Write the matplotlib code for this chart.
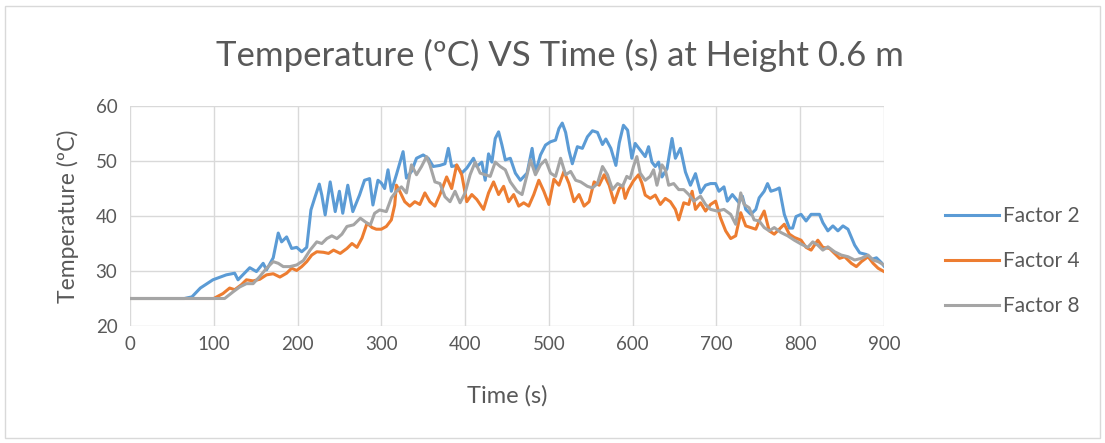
import matplotlib
matplotlib.use("Agg")
import matplotlib.pyplot as plt
from matplotlib.patches import Rectangle

plt.rcParams['font.family'] = ['Lato', 'DejaVu Sans']

########################################################################################
'DATA (read off the reference picture)'

t_f2 = [0, 65, 74, 84, 99, 115, 125, 129, 143, 151, 159, 163, 171, 177, 181, 187, 193, 199, 205, 211,
        216, 221, 226, 229, 233, 239, 245, 250, 254, 260, 266, 274, 280, 286, 290, 296, 300, 304, 308, 312,
        318, 326, 330, 336, 342, 350, 356, 362, 370, 376, 380, 384, 390, 396, 402, 410, 414, 420, 424, 428,
        432, 436, 440, 444, 448, 454, 460, 466, 474, 480, 484, 490, 496, 502, 508, 512, 516, 520, 524, 528,
        534, 540, 546, 552, 558, 564, 568, 574, 580, 584, 589, 594, 599, 603, 609, 615, 619, 623, 627, 631,
        635, 641, 647, 651, 657, 663, 669, 675, 681, 687, 693, 699, 703, 709, 713, 719, 727, 731, 735, 741,
        747, 751, 757, 761, 765, 771, 775, 781, 787, 791, 795, 801, 807, 813, 823, 827, 833, 839, 845, 851,
        857, 865, 871, 879, 885, 891, 897, 900]
T_f2 = [25, 25, 25.3, 26.9, 28.4, 29.3, 29.6, 28.4, 30.6, 29.9, 31.4, 30.2, 32.4, 36.9, 35.3, 36.2, 34.1, 34.3, 33.5, 34.3,
        41.1, 43.5, 45.8, 43.8, 40.2, 46.2, 40.8, 44.5, 40.5, 45.6, 40.8, 43.8, 46.5, 46.8, 42, 46.5, 46, 45, 48.4, 44.5,
        47.5, 51.7, 46.9, 48.1, 50.5, 51.1, 50.5, 49, 49.2, 49.5, 52.3, 49, 49.2, 47.8, 48.7, 50.5, 49, 49.8, 46.5, 51.3,
        49.8, 54.1, 55.3, 52.9, 50.2, 50.5, 47.8, 46.5, 47.8, 52.3, 47.9, 51.1, 52.9, 53.5, 53.8, 55.9, 56.9, 55.2, 51.9, 49.5,
        52.6, 52.3, 54.4, 55.5, 55.2, 53, 54, 52.3, 49.2, 53.3, 56.5, 55.6, 50.5, 53.2, 52, 50.8, 52.6, 49.8, 49, 49.8,
        47.1, 48.6, 54.1, 50.5, 52.3, 48, 45.6, 47.7, 44.2, 45.6, 45.9, 45.9, 44.5, 45.3, 42.7, 43.9, 42.4, 43.6, 41.2, 40.3,
        41.2, 43.3, 44.5, 45.9, 44.5, 44.8, 45.1, 40.3, 37.8, 37.8, 39.9, 40.3, 39.1, 40.3, 40.3, 38.8, 37.3, 38.2, 37.3, 38.2,
        37.6, 34.7, 33.3, 33, 32.1, 32.4, 31.5, 30.9]

t_f4 = [0, 100, 111, 119, 125, 133, 139, 147, 155, 163, 171, 179, 187, 193, 199, 205, 211, 217, 223, 231,
        237, 243, 251, 259, 265, 271, 277, 283, 289, 294, 300, 306, 312, 316, 318, 322, 328, 334, 340, 346,
        352, 358, 364, 370, 378, 384, 390, 396, 402, 408, 414, 422, 428, 434, 440, 446, 452, 458, 464, 470,
        476, 482, 488, 494, 500, 506, 512, 518, 524, 530, 536, 542, 548, 554, 560, 566, 572, 578, 584, 588,
        591, 595, 601, 607, 611, 615, 621, 627, 633, 639, 645, 651, 655, 661, 667, 671, 675, 681, 687, 693,
        699, 705, 711, 717, 723, 729, 735, 741, 747, 751, 757, 763, 769, 775, 781, 787, 793, 801, 807, 813,
        821, 827, 835, 841, 847, 853, 861, 867, 873, 881, 887, 893, 900]
T_f4 = [25, 25, 25.9, 26.9, 26.6, 27.5, 28.4, 28.2, 28.5, 29.3, 29.5, 28.9, 29.6, 30.5, 30.1, 30.8, 31.7, 32.9, 33.5, 33.4,
        33.2, 33.8, 33.2, 34.1, 35, 34.3, 36, 38.7, 37.9, 37.6, 37.6, 38.1, 39.3, 42, 45.6, 44.5, 42.6, 41.8, 42.6, 42.1,
        44.2, 42.6, 41.8, 43.9, 47.1, 45, 49.3, 47.5, 42.6, 43.9, 43, 41.2, 44.2, 46.2, 43.9, 45.4, 42.6, 43.9, 41.8, 42.4,
        41.8, 43.9, 46.5, 44.5, 42.1, 46.7, 45.6, 48.1, 45.9, 42.6, 43.9, 41.8, 42.6, 46.2, 45.6, 47.5, 45.6, 42.4, 45, 45.6,
        43.2, 44.8, 46.4, 47.5, 46, 43.8, 43.2, 43.8, 42.1, 43.2, 42.6, 41.2, 39.3, 42.4, 42.1, 44.5, 41.2, 42.4, 40.9, 42.1,
        42.7, 39.6, 37.3, 35.9, 36.4, 40.6, 38.2, 37.9, 37.6, 39.1, 40.9, 37.3, 36.7, 37.6, 38.5, 36.7, 36.1, 35.6, 34.3, 33.8,
        35.6, 34.3, 34.1, 33.2, 32.3, 32.6, 31.4, 30.8, 31.7, 32.6, 31.4, 30.5, 29.9]

t_f8 = [0, 113, 123, 131, 139, 147, 155, 163, 171, 177, 183, 191, 199, 207, 215, 223, 229, 235, 241, 247,
        253, 259, 267, 275, 283, 287, 292, 298, 306, 312, 318, 324, 330, 336, 342, 348, 354, 358, 364, 370,
        376, 382, 388, 394, 400, 406, 412, 418, 424, 430, 436, 442, 448, 454, 462, 468, 474, 478, 484, 490,
        496, 502, 508, 514, 520, 526, 532, 538, 546, 552, 558, 564, 570, 576, 582, 588, 593, 597, 601, 605,
        609, 615, 621, 625, 629, 635, 639, 643, 649, 655, 661, 667, 673, 681, 687, 693, 701, 709, 717, 723,
        729, 733, 739, 745, 751, 757, 763, 769, 777, 785, 793, 801, 809, 815, 821, 827, 833, 841, 849, 857,
        865, 873, 881, 887, 893, 900]
T_f8 = [25, 25, 26.2, 27.1, 27.7, 27.7, 29, 30.5, 31.7, 31.4, 30.8, 30.8, 31.1, 31.9, 33.8, 35.3, 35, 35.9, 36.4, 35.9,
        36.7, 38.1, 38.4, 39.6, 38.7, 38.4, 40.5, 41.1, 40.8, 43.3, 44.5, 45.3, 44.2, 49.3, 47.5, 49, 50.8, 49.3, 46.2, 45.9,
        43.5, 42.6, 44.5, 42.4, 44.2, 47.5, 49.8, 47.8, 47.5, 47.2, 49.8, 49, 48.4, 46.2, 44.5, 43.9, 47.5, 50.2, 47.5, 49.3,
        50.2, 47.8, 47.2, 50.5, 47.5, 48.1, 46.5, 46.2, 45.4, 45.1, 45.9, 49, 47.5, 44.8, 45.9, 45.4, 47.2, 46.8, 49, 50.8,
        47.8, 46.5, 47.2, 48.4, 45.6, 49.3, 48.4, 45.6, 45.9, 44.8, 44.8, 43.9, 42.7, 43.6, 42.1, 41.2, 40.9, 41.2, 40.3, 38.5,
        44.2, 42.1, 41.5, 39.3, 39.1, 37.9, 37.3, 37.9, 37, 36.4, 35.6, 34.9, 34.3, 35.3, 34.7, 33.8, 34.4, 33.5, 32.9, 32.6,
        32, 32.3, 32.9, 32, 31.7, 31.1]

labels = ['Factor 2', 'Factor 4', 'Factor 8']
colors = ['#5B9BD5', '#ED7D31', '#A5A5A5']
x_ticks = [0, 100, 200, 300, 400, 500, 600, 700, 800, 900]
y_ticks = [20, 30, 40, 50, 60]

########################################################################################
'PLOT'

fig = plt.figure(figsize=(11.05, 4.43), dpi=100)
fig.patches.append(Rectangle((0.0045, 0.012), 0.991, 0.974, transform=fig.transFigure,
                             fill=False, edgecolor='#D9D9D9', linewidth=1))
ax = fig.add_axes([0.1176, 0.2641, 0.6824, 0.4966])

txt = '#595959'
for tt, TT, lab, c in zip([t_f2, t_f4, t_f8], [T_f2, T_f4, T_f8], labels, colors):
	ax.plot(tt, TT, color=c, lw=2.2, label=lab, solid_joinstyle='round')

ax.set_xlim(0, 900)
ax.set_ylim(20, 60)
ax.set_xticks(x_ticks)
ax.set_yticks(y_ticks)
ax.grid(True, color='#D9D9D9', lw=1)
ax.set_axisbelow(True)
for s in ax.spines.values():
	s.set_visible(False)
ax.tick_params(length=0, labelsize=13.5, colors=txt)
ax.tick_params(axis='y', pad=9)
ax.tick_params(axis='x', pad=7)

ax.set_xlabel('Time (s)', fontsize=17, color=txt, labelpad=23)
ax.set_ylabel('Temperature (ºC)', fontsize=16.5, color=txt, labelpad=12)
fig.suptitle('Temperature (ºC) VS Time (s) at Height 0.6 m', fontsize=25, color=txt,
             x=0.507, y=0.876, va='center')

leg = fig.legend(loc='center left', bbox_to_anchor=(0.838, 0.411), frameon=False,
                 fontsize=15, handlelength=2.6, handletextpad=0.2, labelspacing=1.2)
for t in leg.get_texts():
	t.set_color(txt)

fig.savefig('out.png', dpi=100)
